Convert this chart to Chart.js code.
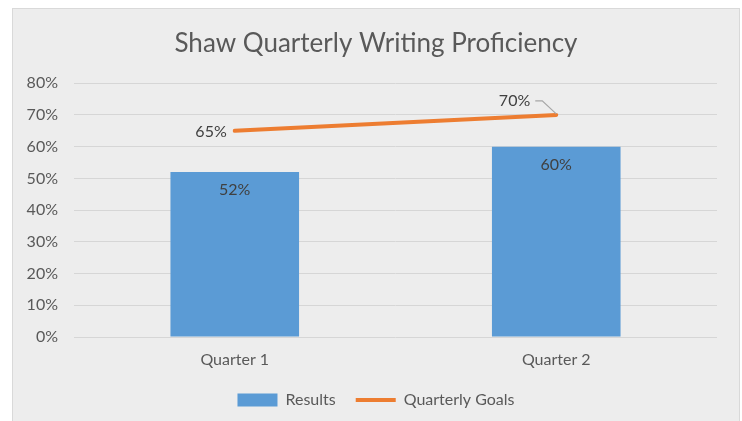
<!DOCTYPE html>
<html>
<head>
<meta charset="utf-8">
<script src="https://cdn.jsdelivr.net/npm/chart.js@4"></script>
<style>
  body { margin: 0; background: #fff; }
  #frame { position: absolute; left: 12px; top: 8px; width: 726px; height: 420px;
           background: #ededed; border: 1px solid #d9d9d9; border-bottom: none; }
  #wrap { position: absolute; left: 0; top: 0; width: 742px; height: 421px; }
</style>
</head>
<body>
<div id="frame"></div>
<div id="wrap"><canvas id="chart" width="742" height="421"></canvas></div>
<script>
// Shaw quarterly writing chart

const quarters = ['Quarter 1', 'Quarter 2'];
const results = [52, 60];
const goals = [65, 70];
const yTicks = [0, 10, 20, 30, 40, 50, 60, 70, 80];

const fontFamily = 'Lato, "Open Sans", sans-serif';

// draws the value labels like the spreadsheet does
const valueLabels = {
  id: 'valueLabels',
  afterDatasetsDraw(chart) {
    const ctx = chart.ctx;
    ctx.save();
    ctx.font = '16px ' + fontFamily;
    ctx.fillStyle = '#404040';
    ctx.textBaseline = 'middle';

    const bars = chart.getDatasetMeta(0).data;
    bars.forEach((bar, i) => {
      ctx.textAlign = 'center';
      ctx.fillText(results[i] + '%', bar.x, bar.y + 18);
    });

    const pts = chart.getDatasetMeta(1).data;
    // first goal: left of the point
    ctx.textAlign = 'right';
    ctx.fillText(goals[0] + '%', pts[0].x - 8, pts[0].y + 1);
    // second goal: above-left with a leader line
    const p = pts[1];
    ctx.fillText(goals[1] + '%', p.x - 26, p.y - 14);
    ctx.strokeStyle = '#a6a6a6';
    ctx.lineWidth = 1.2;
    ctx.beginPath();
    ctx.moveTo(p.x - 21, p.y - 14);
    ctx.lineTo(p.x - 14, p.y - 14);
    ctx.lineTo(p.x, p.y - 1);
    ctx.stroke();
    ctx.restore();
  }
};

new Chart(document.getElementById('chart'), {
  data: {
    labels: quarters,
    datasets: [
      {
        type: 'bar',
        label: 'Results',
        data: results,
        backgroundColor: '#5b9bd5',
        borderWidth: 0,
        barPercentage: 0.4,
        categoryPercentage: 1,
        pointStyle: 'rect'
      },
      {
        type: 'line',
        label: 'Quarterly Goals',
        data: goals,
        borderColor: '#ed7d31',
        backgroundColor: '#ed7d31',
        borderWidth: 4,
        borderCapStyle: 'round',
        pointRadius: 0,
        pointStyle: 'line'
      }
    ]
  },
  options: {
    responsive: false,
    animation: false,
    layout: { padding: { left: 35, right: 25, top: 0, bottom: 3 } },
    plugins: {
      title: {
        display: true,
        text: 'Shaw Quarterly Writing Proficiency',
        color: '#595959',
        font: { family: fontFamily, size: 26, weight: 'normal' },
        padding: { top: 28, bottom: 24 }
      },
      legend: {
        position: 'bottom',
        labels: {
          usePointStyle: true,
          pointStyleWidth: 40,
          boxHeight: 13,
          padding: 20,
          color: '#595959',
          font: { family: fontFamily, size: 16 }
        }
      },
      tooltip: { enabled: false }
    },
    scales: {
      x: {
        grid: { display: false },
        border: { display: false },
        ticks: { color: '#595959', font: { family: fontFamily, size: 16 }, padding: 5 },
        afterFit(scale) { scale.height = 35; }
      },
      y: {
        min: 0,
        max: 80,
        afterBuildTicks(scale) { scale.ticks = yTicks.map(v => ({ value: v })); },
        grid: { color: '#d6d6d6', lineWidth: 1, drawTicks: false },
        border: { display: false },
        ticks: {
          color: '#595959',
          font: { family: fontFamily, size: 16 },
          padding: 16,
          callback: v => v + '%'
        },
        afterFit(scale) {
          scale.width = 39;
          // labels stick out left of the narrow axis box, so don't clip them
          scale._computeLabelArea = () => undefined;
        }
      }
    }
  },
  plugins: [valueLabels]
});
</script>
</body>
</html>
